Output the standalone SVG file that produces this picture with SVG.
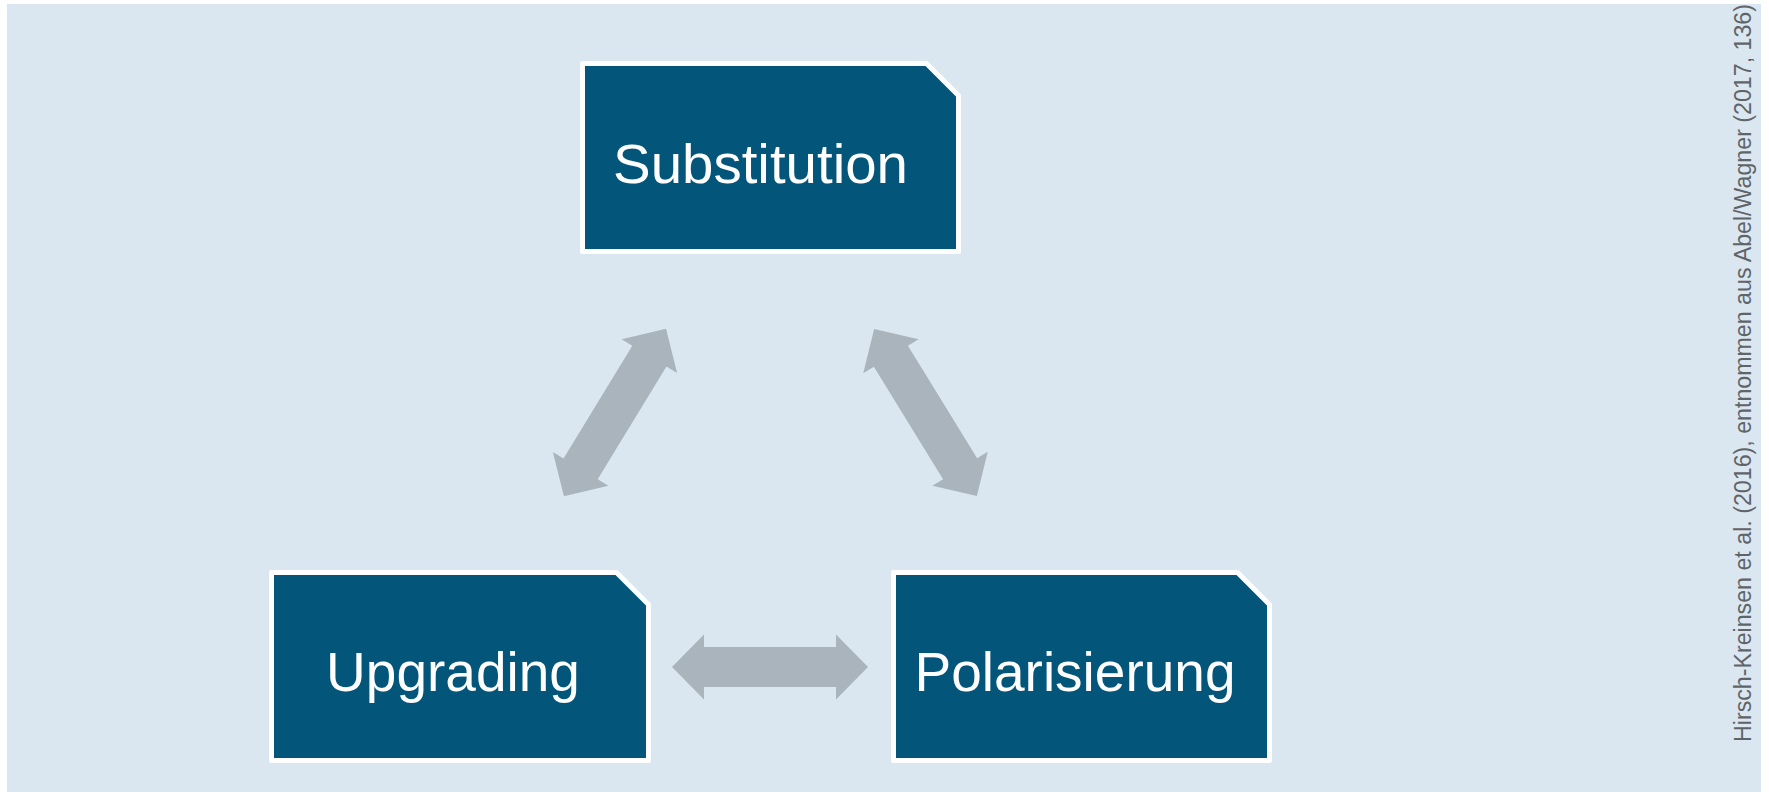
<svg xmlns="http://www.w3.org/2000/svg" xmlns:xlink="http://www.w3.org/1999/xlink" width="1769" height="792" viewBox="0 0 1769 792">
<style>
.box{fill:#03567a;stroke:#ffffff;stroke-width:5;stroke-linejoin:round}
.lbl{font-family:"Liberation Sans",Arial,sans-serif;font-size:55px;fill:#ffffff;text-anchor:middle}
.arr{fill:#aab4bd}
.src{font-family:"Liberation Sans",Arial,sans-serif;font-size:23px;fill:#5f6468}
</style>
<defs>
<path id="dbl" d="M-98,0 L-66,-32.5 L-66,-20 L66,-20 L66,-32.5 L98,0 L66,32.5 L66,20 L-66,20 L-66,32.5 Z"/>
</defs>
<rect x="0" y="0" width="1769" height="792" fill="#ffffff"/>
<rect x="7" y="4" width="1754" height="788" fill="#dae7f0"/>
<g id="connectors">
<use xlink:href="#dbl" class="arr" transform="translate(615,412.5) rotate(-58.6)"/>
<use xlink:href="#dbl" class="arr" transform="translate(925.5,412.5) rotate(58.4)"/>
<use xlink:href="#dbl" class="arr" transform="translate(770,667)"/>
</g>
<g id="substitution">
<path class="box" d="M582.5,63.5 H926.5 L958.5,95.5 V251.5 H582.5 Z"/>
<text class="lbl" x="760.5" y="183" textLength="295" lengthAdjust="spacingAndGlyphs">Substitution</text>
</g>
<g id="upgrading">
<path class="box" d="M271.5,572.5 H616.5 L648.5,604.5 V760.5 H271.5 Z"/>
<text class="lbl" x="453" y="691">Upgrading</text>
</g>
<g id="polarisierung">
<path class="box" d="M893.5,572.5 H1237.5 L1269.5,604.5 V760.5 H893.5 Z"/>
<text class="lbl" x="1075" y="691">Polarisierung</text>
</g>
<g id="source">
<text class="src" transform="translate(1751,742) rotate(-90)" x="0" y="0" textLength="738" lengthAdjust="spacingAndGlyphs">Hirsch-Kreinsen et al. (2016), entnommen aus Abel/Wagner (2017, 136)</text>
</g>
</svg>
